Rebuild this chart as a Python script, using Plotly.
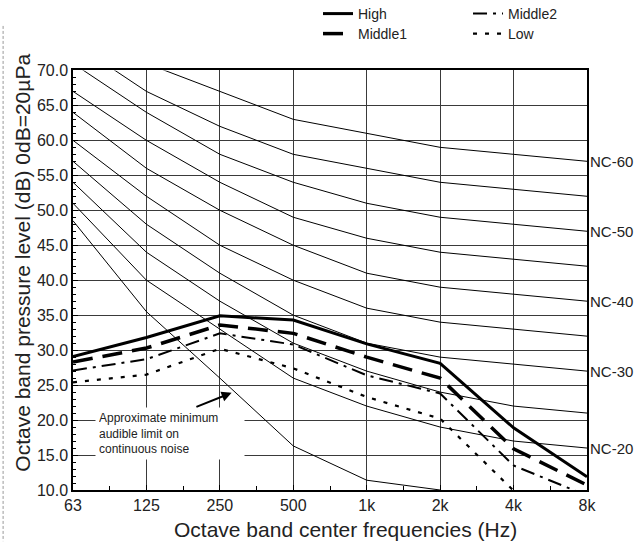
import plotly.graph_objects as go

FREQ_LABELS = ["63", "125", "250", "500", "1k", "2k", "4k", "8k"]
x_idx = list(range(len(FREQ_LABELS)))

# NC curves (dB) at each octave band
nc_60 = [77, 71, 67, 63, 61, 59, 58, 57]
nc_55 = [74, 67, 62, 58, 56, 54, 53, 52]
nc_50 = [71, 64, 58, 54, 51, 49, 48, 47]
nc_45 = [67, 60, 54, 49, 46, 44, 43, 42]
nc_40 = [64, 56, 50, 45, 41, 39, 38, 37]
nc_35 = [60, 52, 45, 40, 36, 34, 33, 32]
nc_30 = [57, 48, 41, 35, 31, 29, 28, 27]
nc_25 = [54, 44, 37, 31, 27, 24, 22, 21]
nc_20 = [51, 40, 33, 26, 22, 19, 17, 16]
nc_curves = [("NC-60", nc_60), ("NC-55", nc_55), ("NC-50", nc_50), ("NC-45", nc_45),
             ("NC-40", nc_40), ("NC-35", nc_35), ("NC-30", nc_30), ("NC-25", nc_25),
             ("NC-20", nc_20)]
nc_labeled = ["NC-60", "NC-50", "NC-40", "NC-30", "NC-20"]

# approximate minimum audible limit (63 Hz .. 2 kHz)
audible = [48.5, 35.5, 26.0, 16.3, 11.4, 10.0]

# measured fan-speed spectra
high = [29.1, 31.8, 34.9, 34.3, 30.9, 28.1, 18.9, 11.9]
middle1 = [28.3, 30.3, 33.6, 32.4, 29.0, 26.0, 15.9, 10.7]
middle2 = [27.1, 28.7, 32.4, 30.8, 26.4, 23.8, 13.5, 9.2]
low = [25.4, 26.5, 30.2, 27.4, 23.3, 20.2, 9.9, 7.0]

fig = go.Figure()

for name, vals in nc_curves:
    fig.add_trace(go.Scatter(x=x_idx, y=vals, mode="lines", name=name,
                             line=dict(color="black", width=1), showlegend=False,
                             hoverinfo="skip"))

fig.add_trace(go.Scatter(x=x_idx[:len(audible)], y=audible, mode="lines",
                         name="Audible limit", line=dict(color="black", width=1),
                         showlegend=False, hoverinfo="skip"))

fig.add_trace(go.Scatter(x=x_idx, y=high, mode="lines", name="High",
                         line=dict(color="black", width=3), legend="legend"))
fig.add_trace(go.Scatter(x=x_idx, y=middle2, mode="lines", name="Middle2",
                         line=dict(color="black", width=2, dash="14px,6px,3px,6px"),
                         legend="legend"))
fig.add_trace(go.Scatter(x=x_idx, y=middle1, mode="lines", name="Middle1",
                         line=dict(color="black", width=3.5, dash="20px,10px"),
                         legend="legend2"))
fig.add_trace(go.Scatter(x=x_idx, y=low, mode="lines", name="Low",
                         line=dict(color="black", width=2.2, dash="4px,8px"),
                         legend="legend2"))

grid_c = "#3a3a3a"
fig.update_xaxes(range=[0, 7], tickmode="array", tickvals=x_idx, ticktext=FREQ_LABELS,
                 showgrid=True, gridcolor=grid_c, gridwidth=1.2,
                 ticks="inside", ticklen=5, tickcolor="black",
                 minor=dict(tickvals=[i + 0.5 for i in range(7)], ticks="inside",
                            ticklen=4, tickcolor="black", showgrid=False),
                 showline=True, linecolor="black", linewidth=1.5, mirror=True,
                 zeroline=False, tickfont=dict(size=16, color="#222"))
fig.update_yaxes(range=[10, 70], dtick=5, tick0=10, tickformat=".1f",
                 showgrid=True, gridcolor=grid_c, gridwidth=1.2,
                 ticks="inside", ticklen=5, tickcolor="black",
                 minor=dict(dtick=1, ticks="inside", ticklen=3, tickcolor="black",
                            showgrid=False),
                 showline=True, linecolor="black", linewidth=1.5, mirror=True,
                 zeroline=False, tickfont=dict(size=16, color="#222"))

annotations = []
for name, vals in nc_curves:
    if name in nc_labeled:
        annotations.append(dict(x=7, y=vals[-1], xref="x", yref="y", text=name,
                                showarrow=False, xanchor="left", yanchor="middle",
                                xshift=1, font=dict(size=15, color="#222")))

annotations.append(dict(x=0.296, y=21.92, xref="x", yref="y",
                        text="Approximate minimum<br>audible limit on<br>continuous noise",
                        showarrow=False, xanchor="left", yanchor="top", align="left",
                        bgcolor="white", borderpad=3, width=142,
                        font=dict(size=12, color="#222")))
annotations.append(dict(x=2.16, y=23.9, ax=1.66, ay=21.8, xref="x", yref="y",
                        axref="x", ayref="y", text="", showarrow=True,
                        arrowhead=2, arrowsize=1, arrowwidth=2, arrowcolor="black",
                        standoff=0, startstandoff=0))

# axis titles
annotations.append(dict(x=-0.099, y=0.542, xref="paper", yref="paper",
                        text="Octave band pressure level (dB) 0dB=20µPa",
                        textangle=-90, showarrow=False, xanchor="center", yanchor="middle",
                        font=dict(size=21, color="#222")))
annotations.append(dict(x=0.53, y=-0.063, xref="paper", yref="paper",
                        text="Octave band center frequencies (Hz)",
                        showarrow=False, xanchor="center", yanchor="top",
                        font=dict(size=21, color="#222")))

legend_common = dict(orientation="h", xref="container", yref="container",
                     xanchor="left", yanchor="middle", entrywidth=105,
                     font=dict(size=14, color="#222"), bgcolor="rgba(0,0,0,0)",
                     borderwidth=0)

fig.update_layout(
    width=634, height=544,
    margin=dict(l=73, r=47, t=47, b=54),
    plot_bgcolor="white", paper_bgcolor="white",
    font=dict(family="Liberation Sans, Arial, sans-serif", color="#222"),
    annotations=annotations,
    shapes=[dict(type="line", xref="paper", yref="paper", x0=-0.136, x1=-0.136,
                 y0=1.106, y1=-0.122, line=dict(color="#999", width=1, dash="3px,2px"))],
    legend=dict(x=0.5016, y=1 - 14 / 544, **legend_common),
    legend2=dict(x=0.5016, y=1 - 34 / 544, **legend_common),
)

fig.write_html("out.html")
